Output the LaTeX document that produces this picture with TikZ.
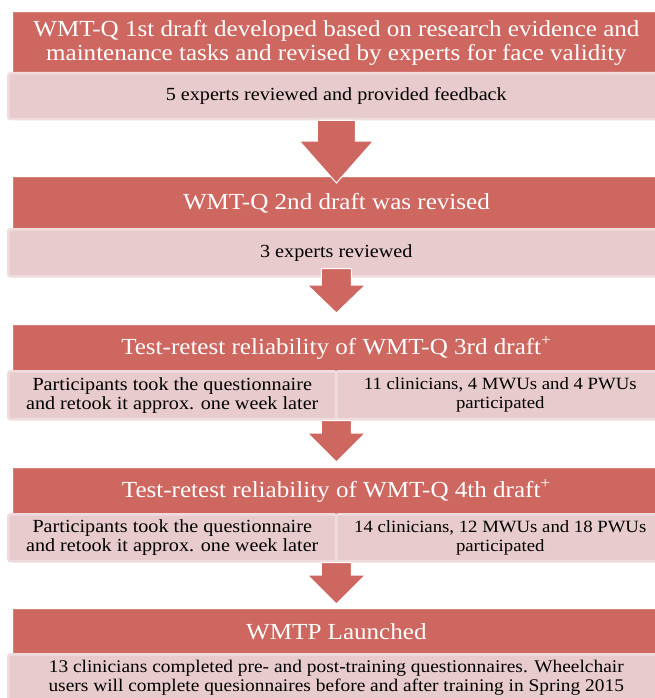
\documentclass[tikz,border=0pt]{standalone}
\usepackage{fontspec}
\setmainfont[FakeStretch=1.09]{Liberation Serif}
\usetikzlibrary{calc}
\definecolor{hdr}{RGB}{205,103,96}
\definecolor{hdredge}{RGB}{214,128,122}
\definecolor{sub}{RGB}{232,203,204}
\definecolor{subedge}{RGB}{240,220,221}
\tikzset{
  hdrbox/.style={fill=hdr, draw=hdredge, line width=0.8pt, text=white, align=center,
    inner sep=0pt, anchor=north west, minimum width=646pt,
    font=\fontsize{23}{24}\selectfont},
  subbox/.style={fill=sub, draw=subedge, line width=2.5pt, rounded corners=2.5pt, text=black,
    align=center, inner sep=0pt, anchor=north west,
    font=\fontsize{18.5}{19}\selectfont},
  numtext/.style={font=\fontsize{17.2}{19}\selectfont},
  arr/.style={fill=hdr, draw=white, line width=1pt, line join=miter},
}
% #1 start point, #2 tip point, #3 shaft half width, #4 head half width, #5 head length
\newcommand\flowarrow[5]{%
  \filldraw[arr] ($(#1)+(-#3,0)$) -- ($(#2)+(-#3,-#5)$) -- ($(#2)+(-#4,-#5)$) -- (#2)
    -- ($(#2)+(#4,-#5)$) -- ($(#2)+(#3,-#5)$) -- ($(#1)+(#3,0)$) -- cycle;}
\begin{document}
\begin{tikzpicture}[x=1pt,y=-1pt]
\useasboundingbox (0,0) rectangle (654,698);
% stage 1
\node[hdrbox, minimum height=60pt] (h1) at (13,12)
  {WMT-Q 1st draft developed based on research evidence and\\maintenance tasks and revised by experts for face validity};
\node[subbox, minimum width=656pt, minimum height=46pt] (s1) at (7,72)
  {5 experts reviewed and provided feedback};
% stage 2
\node[hdrbox, minimum height=51pt] (h2) at (13,177) {WMT-Q 2nd draft was revised};
\node[subbox, minimum width=656pt, minimum height=47pt] (s2) at (7,228) {3 experts reviewed};
% stage 3
\node[hdrbox, minimum height=45pt] (h3) at (13,325)
  {Test-retest reliability of WMT-Q 3rd draft\textsuperscript{+}};
\node[subbox, minimum width=328pt, minimum height=48pt] (s3a) at (7,370)
  {Participants took the questionnaire\\and retook it approx. one week later};
\node[subbox, numtext, minimum width=328pt, minimum height=48pt] (s3b) at (335,370)
  {11 clinicians, 4 MWUs and 4 PWUs\\participated};
% stage 4
\node[hdrbox, minimum height=45pt] (h4) at (13,468)
  {Test-retest reliability of WMT-Q 4th draft\textsuperscript{+}};
\node[subbox, minimum width=328pt, minimum height=47pt] (s4a) at (7,513)
  {Participants took the questionnaire\\and retook it approx. one week later};
\node[subbox, numtext, minimum width=328pt, minimum height=47pt] (s4b) at (335,513)
  {14 clinicians, 12 MWUs and 18 PWUs\\participated};
% stage 5
\node[hdrbox, minimum height=44pt] (h5) at (13,609) {WMTP Launched};
\node[subbox, font=\fontsize{17.8}{19}\selectfont, minimum width=656pt, minimum height=47pt] (s5) at (7,653)
  {13 clinicians completed pre- and post-training questionnaires. Wheelchair\\users will complete quesionnaires before and after training in Spring 2015};
% arrows
\coordinate (a1s) at ($(s1.south)+(0,0)$);
\coordinate (a1t) at ($(h2.north)+(0,6)$);
\flowarrow{a1s}{a1t}{19}{37}{42}
\coordinate (a2s) at ($(s2.south)+(0,-9)$);
\coordinate (a2t) at ($(h3.north)+(0,-12)$);
\flowarrow{a2s}{a2t}{15}{29}{28}
\coordinate (a3s) at ($(s3a.south east)!0.5!(s3b.south west)$);
\coordinate (a3t) at ($(h4.north)+(0,-6)$);
\flowarrow{a3s}{a3t}{15}{29}{29}
\coordinate (a4s) at ($(s4a.south east)!0.5!(s4b.south west)$);
\coordinate (a4t) at ($(h5.north)+(0,-5)$);
\flowarrow{a4s}{a4t}{15}{29}{29}
\end{tikzpicture}
\end{document}
